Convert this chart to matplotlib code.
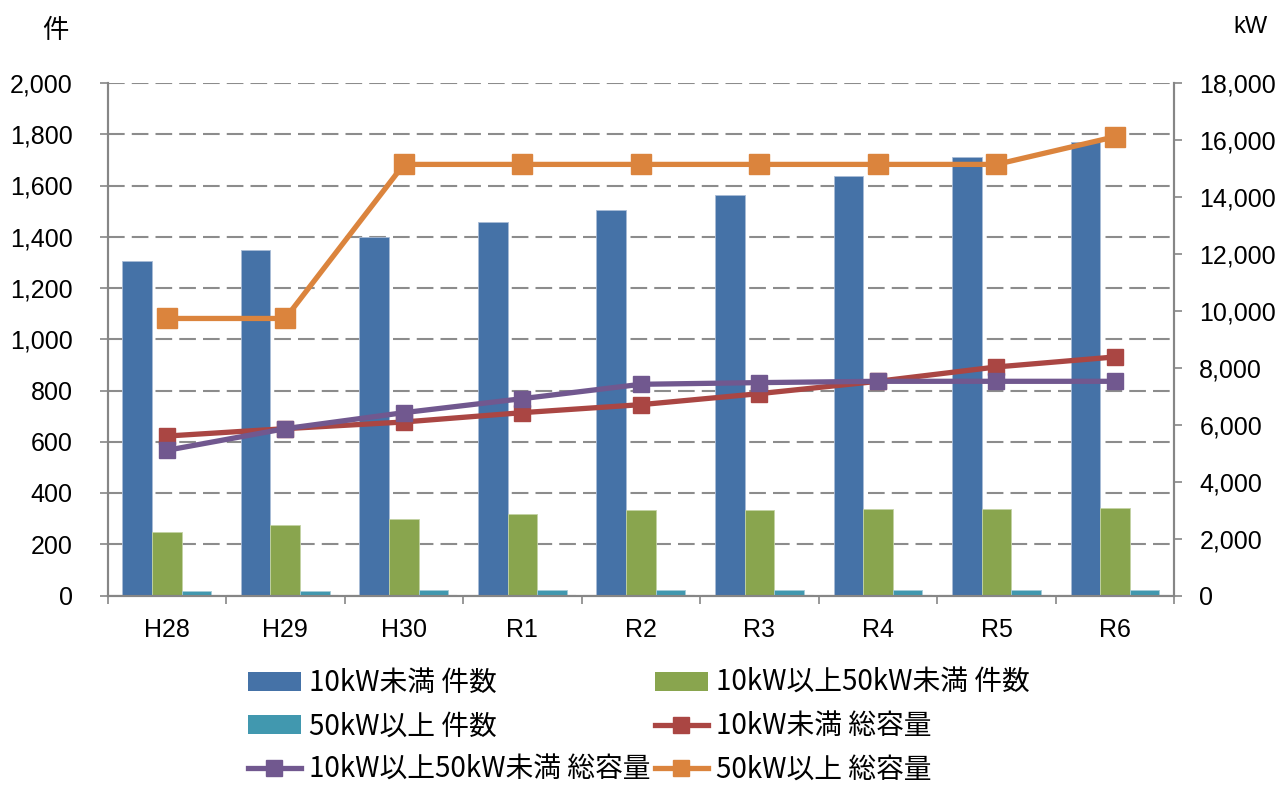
import matplotlib
matplotlib.use("Agg")
import matplotlib.pyplot as plt
from matplotlib.lines import Line2D
from matplotlib.patches import Patch
import numpy as np

# Fiscal years
years = ["H28", "H29", "H30", "R1", "R2", "R3", "R4", "R5", "R6"]

# Number of installations (left axis, 件)
count_under10 = [1305, 1349, 1400, 1457, 1503, 1561, 1638, 1710, 1768]
count_10to50 = [246, 275, 298, 319, 332, 335, 338, 338, 340]
count_over50 = [17, 17, 21, 20, 20, 20, 20, 20, 22]

# Total capacity (right axis, kW)
cap_under10 = [5600, 5860, 6094, 6422, 6703, 7090, 7523, 8027, 8379]
cap_10to50 = [5098, 5860, 6422, 6914, 7418, 7477, 7523, 7523, 7523]
cap_over50 = [9730, 9730, 15141, 15141, 15141, 15141, 15141, 15141, 16113]

labels = ["10kW未満 件数", "10kW以上50kW未満 件数", "50kW以上 件数",
          "10kW未満 総容量", "10kW以上50kW未満 総容量", "50kW以上 総容量"]

C_BLUE, C_GREEN, C_TEAL = "#4572A7", "#89A54E", "#4198AF"
C_RED, C_PURPLE, C_ORANGE = "#AA4643", "#71588F", "#DB843D"
AXIS_GRAY = "#868686"

plt.rcParams["font.family"] = ["Liberation Sans", "Noto Sans CJK JP", "DejaVu Sans"]
CJK = ["Noto Sans CJK JP", "DejaVu Sans"]

W, H = 1279, 785
fig = plt.figure(figsize=(W / 100, H / 100), dpi=100)
ax = fig.add_axes([107.5 / W, (H - 595.5) / H, (1174.3 - 107.5) / W, (595.5 - 83) / H])

x = np.arange(len(years))
bw = 0.25
ax.bar(x - bw, count_under10, bw, color=C_BLUE, edgecolor="#A9BCD6", linewidth=0.6, zorder=2)
ax.bar(x, count_10to50, bw, color=C_GREEN, edgecolor="#C3D3A4", linewidth=0.6, zorder=2)
ax.bar(x + bw, count_over50, bw, color=C_TEAL, edgecolor="#A4CCD8", linewidth=0.6, zorder=2)

ax.set_xlim(-0.5, len(years) - 0.5)
ax.set_ylim(0, 2000)
ax.set_yticks(np.arange(0, 2001, 200))
ax.set_yticklabels([f"{v:,}" for v in range(0, 2001, 200)])
ax.yaxis.grid(True, color="#8C8C8C", linestyle=(0, (8, 3.4)), linewidth=1.5)
ax.set_axisbelow(True)

ax.set_xticks(np.arange(-0.5, len(years), 1.0))
ax.set_xticklabels([])
ax.set_xticks(x, minor=True)
ax.set_xticklabels(years, minor=True)
ax.tick_params(axis="x", which="minor", length=0, pad=16, labelsize=18)
ax.tick_params(axis="x", which="major", length=6, width=1.2, color=AXIS_GRAY, direction="out")
ax.tick_params(axis="y", length=6, width=1.2, color=AXIS_GRAY, direction="out", pad=19, labelsize=18)

for side in ("left", "bottom", "right"):
    ax.spines[side].set_color(AXIS_GRAY)
    ax.spines[side].set_linewidth(1.5)
ax.spines["top"].set_visible(False)

ax2 = ax.twinx()
ax2.set_ylim(0, 18000)
ax2.set_yticks(np.arange(0, 18001, 2000))
ax2.set_yticklabels([f"{v:,}" for v in range(0, 18001, 2000)])
ax2.tick_params(axis="y", length=6, width=1.2, color=AXIS_GRAY, direction="out", pad=12, labelsize=18)
for side in ("left", "bottom", "right"):
    ax2.spines[side].set_color(AXIS_GRAY)
    ax2.spines[side].set_linewidth(1.5)
ax2.spines["top"].set_visible(False)

lw = 3.8
ax2.plot(x, cap_under10, color=C_RED, linewidth=lw, marker="s", markersize=11, zorder=3)
ax2.plot(x, cap_10to50, color=C_PURPLE, linewidth=lw, marker="s", markersize=11, zorder=4)
ax2.plot(x, cap_over50, color=C_ORANGE, linewidth=lw, marker="s", markersize=14.5, zorder=5)

fig.text(55 / W, 1 - 30 / H, "件", family=CJK, fontsize=19, ha="center", va="center")
fig.text(1250 / W, 1 - 27 / H, "kW", fontsize=17, ha="center", va="center")

# Legend, two columns placed separately
h_blue = Patch(facecolor=C_BLUE, edgecolor="none")
h_green = Patch(facecolor=C_GREEN, edgecolor="none")
h_teal = Patch(facecolor=C_TEAL, edgecolor="none")
h_red = Line2D([], [], color=C_RED, linewidth=lw, marker="s", markersize=11)
h_purple = Line2D([], [], color=C_PURPLE, linewidth=lw, marker="s", markersize=11)
h_orange = Line2D([], [], color=C_ORANGE, linewidth=lw, marker="s", markersize=11)

leg_kw = dict(frameon=False, prop={"family": CJK, "size": 20}, handlelength=1.9,
              handleheight=0.65, handletextpad=0.28, labelspacing=0.48, borderpad=0,
              borderaxespad=0, loc="upper left")
leg1 = fig.legend([h_blue, h_teal, h_purple], [labels[0], labels[2], labels[4]],
                  bbox_to_anchor=(248 / W, 1 - 668 / H), **leg_kw)
leg2 = fig.legend([h_green, h_red, h_orange], [labels[1], labels[3], labels[5]],
                  bbox_to_anchor=(655 / W, 1 - 668 / H), **leg_kw)

fig.savefig("out.png", dpi=100)
